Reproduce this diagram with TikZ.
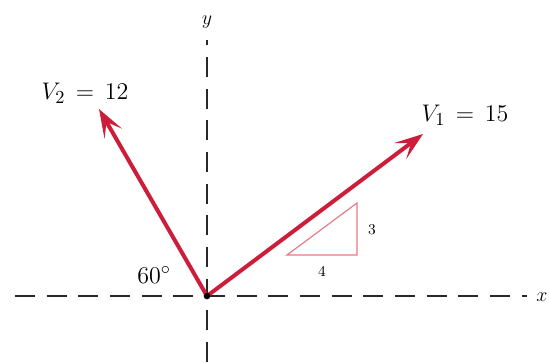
\documentclass[tikz,border=0pt]{standalone}
\usepackage{amsmath, amssymb}
\usepackage{xcolor}
\usetikzlibrary{arrows.meta, calc}
\definecolor{vecR}{RGB}{204,30,58}
\definecolor{triR}{RGB}{232,120,132}
\definecolor{axG}{RGB}{40,40,40}
\begin{document}
\begin{tikzpicture}[x=0.6pt, y=-0.6pt,
  axis/.style={axG, line width=0.9pt, dash pattern=on 12pt off 7pt},
  vec/.style={vecR, line width=2.4pt, -{Stealth[length=17pt, width=12pt, inset=8pt]}},
  lbl/.style={font=\fontsize{15}{17}\selectfont, inner sep=0pt}]
\useasboundingbox (0,0) rectangle (549,362);
% axes
\coordinate (O) at (207,296);
\coordinate (xL) at (15,296);
\coordinate (xR) at (527,296);
\coordinate (yT) at (207,40);
\coordinate (yB) at (207,362);
\draw[axis] (xL) -- (xR);
\draw[axis] (yB) -- (yT);
\node[lbl, font=\large] (xlab) at (542,297) {$x$};
\node[lbl, font=\large] (ylab) at (207,22) {$y$};
% vectors
\coordinate (V1tip) at ($(O)+(216,-162)$);
\coordinate (V2tip) at ($(O)+(-108,-187)$);
\draw[vec] (O) -- (V1tip);
\draw[vec] (O) -- (V2tip);
\fill (O) circle (2pt);
\node[lbl] (V2lab) at (85,93) {$V_2\,=\,12$};
\node[lbl] (V1lab) at (465,115) {$V_1\,=\,15$};
\node[lbl] (ang) at (154,275) {$60^\circ$};
% slope triangle
\coordinate (T1) at (287,255);
\coordinate (T2) at (357,255);
\coordinate (T3) at (357,203);
\draw[triR, line width=0.7pt] (T1) -- (T2) -- (T3) -- cycle;
\node[lbl, font=\small] (four) at (322,271) {4};
\node[lbl, font=\small] (three) at (372,230) {3};
\end{tikzpicture}
\end{document}
